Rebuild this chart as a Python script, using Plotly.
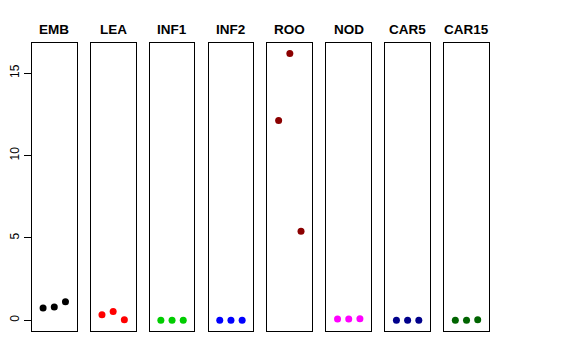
import plotly.graph_objects as go

tissues = ["EMB", "LEA", "INF1", "INF2", "ROO", "NOD", "CAR5", "CAR15"]
colors = ["#000000", "#FF0000", "#00CD00", "#0000FF", "#8B0000", "#FF00FF", "#00008B", "#006400"]
reps = [1, 2, 3]
values = {
    "EMB": [0.75, 0.81, 1.12],
    "LEA": [0.34, 0.53, 0.04],
    "INF1": [0.0, 0.0, 0.0],
    "INF2": [0.0, 0.0, 0.0],
    "ROO": [12.12, 16.2, 5.41],
    "NOD": [0.08, 0.08, 0.09],
    "CAR5": [0.0, 0.0, 0.0],
    "CAR15": [0.0, 0.0, 0.03],
}
y_ticks = [0, 5, 10, 15]

W, H = 576, 360
off = 8.0  # page body margin offset
left0, pitch, pw = 29.0 - off, 59.2, 45.0
top_px, bot_px = 42.7 - off, 331.0 - off
title_px = 29.5 - off
ymin, ymax = -0.65, 16.85

fig = go.Figure()
layout = dict(
    width=W, height=H,
    margin=dict(l=0, r=0, t=0, b=0),
    paper_bgcolor="white", plot_bgcolor="white",
    showlegend=False,
    font=dict(family="Liberation Sans, Arial, sans-serif", color="black"),
)
annotations = []
for i, (t, c) in enumerate(zip(tissues, colors)):
    idx = "" if i == 0 else str(i + 1)
    xa = "x" + idx
    ya = "y" + idx
    fig.add_trace(go.Scatter(
        x=reps, y=values[t], mode="markers",
        marker=dict(color=c, size=7, line=dict(width=0)),
        xaxis=xa, yaxis=ya, hoverinfo="skip",
    ))
    l = left0 + pitch * i
    layout["xaxis" + idx] = dict(
        domain=[l / W, (l + pw) / W], range=[0, 4], showgrid=False, zeroline=False,
        showticklabels=False, ticks="", showline=True, mirror=True,
        linecolor="black", linewidth=1, anchor=ya, fixedrange=True,
    )
    yd = dict(
        domain=[1 - bot_px / H, 1 - top_px / H], range=[ymin, ymax], showgrid=False,
        zeroline=False, showline=True, mirror=True, linecolor="black", linewidth=1,
        anchor=xa, fixedrange=True,
    )
    if i == 0:
        yd.update(tickvals=y_ticks, ticktext=[str(v) for v in y_ticks], ticks="outside",
                  ticklen=7, tickwidth=1, tickcolor="black", tickangle=-90,
                  tickfont=dict(size=12, color="black"))
    else:
        yd.update(showticklabels=False, ticks="")
    layout["yaxis" + idx] = yd
    annotations.append(dict(
        text="<b>" + t + "</b>", x=(l + pw / 2) / W, y=1 - title_px / H,
        xref="paper", yref="paper", showarrow=False,
        xanchor="center", yanchor="middle", font=dict(size=13.5, color="black"),
    ))
layout["annotations"] = annotations
fig.update_layout(**layout)
fig.write_html("out.html")
